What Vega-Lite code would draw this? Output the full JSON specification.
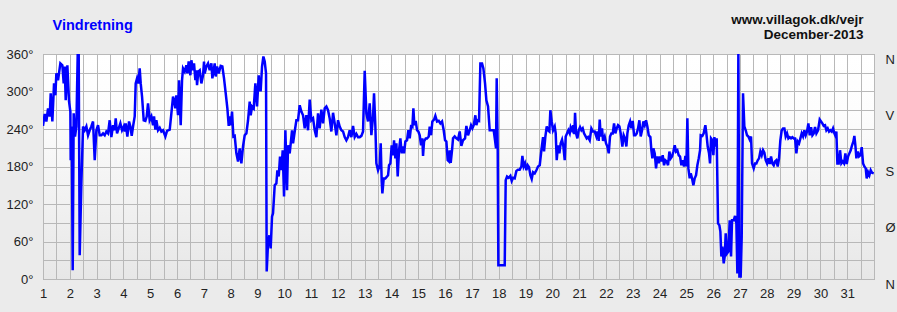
{
  "$schema": "https://vega.github.io/schema/vega-lite/v6.json",
  "width": 831,
  "height": 225,
  "autosize": {"type": "none"},
  "padding": {"left": 43, "top": 54, "right": 23, "bottom": 33},
  "background": "#ebebeb",
  "config": {
    "font": "Liberation Sans",
    "view": {
      "stroke": "#9a9a9a",
      "strokeWidth": 1,
      "fill": {"gradient": "linear", "x1": 0, "y1": 0, "x2": 0, "y2": 1, "stops": [{"offset": 0, "color": "#ffffff"}, {"offset": 0.25, "color": "#fdfdfd"}, {"offset": 1, "color": "#e7e7e7"}]}
    },
    "axis": {
      "gridColor": "#b8b8b8",
      "gridWidth": 1,
      "gridOpacity": 1,
      "ticks": false,
      "domain": false,
      "labelFont": "Liberation Sans",
      "labelFontSize": 13,
      "labelColor": "#222222",
      "labelFlush": false,
      "labelOverlap": false,
      "labelBound": false
    }
  },
  "data": {"values": [
{"t":1.0,"d":245},{"t":1.063,"d":264},{"t":1.126,"d":252},{"t":1.188,"d":273},{"t":1.25,"d":260},{"t":1.287,"d":297},{"t":1.349,"d":252},{"t":1.412,"d":313},{"t":1.461,"d":294},{"t":1.499,"d":329},{"t":1.561,"d":318},{"t":1.648,"d":345},{"t":1.722,"d":342},{"t":1.772,"d":313},{"t":1.81,"d":340},{"t":1.847,"d":286},{"t":1.909,"d":342},{"t":1.971,"d":284},{"t":2.021,"d":268},{"t":2.033,"d":190},{"t":2.071,"d":244},{"t":2.108,"d":14},{"t":2.145,"d":265},{"t":2.195,"d":228},{"t":2.245,"d":244},{"t":2.295,"d":360},{"t":2.332,"d":360},{"t":2.369,"d":38},{"t":2.431,"d":153},{"t":2.494,"d":244},{"t":2.556,"d":238},{"t":2.618,"d":244},{"t":2.68,"d":230},{"t":2.742,"d":238},{"t":2.804,"d":244},{"t":2.866,"d":252},{"t":2.929,"d":190},{"t":2.991,"d":238},{"t":3.053,"d":246},{"t":3.115,"d":230},{"t":3.177,"d":230},{"t":3.24,"d":233},{"t":3.302,"d":230},{"t":3.364,"d":236},{"t":3.426,"d":233},{"t":3.488,"d":254},{"t":3.55,"d":227},{"t":3.613,"d":246},{"t":3.675,"d":238},{"t":3.712,"d":257},{"t":3.762,"d":233},{"t":3.824,"d":241},{"t":3.886,"d":249},{"t":3.948,"d":238},{"t":4.011,"d":244},{"t":4.048,"d":236},{"t":4.085,"d":249},{"t":4.147,"d":228},{"t":4.21,"d":252},{"t":4.259,"d":244},{"t":4.309,"d":229},{"t":4.359,"d":244},{"t":4.421,"d":260},{"t":4.458,"d":313},{"t":4.508,"d":321},{"t":4.558,"d":313},{"t":4.607,"d":337},{"t":4.645,"d":313},{"t":4.695,"d":292},{"t":4.757,"d":254},{"t":4.819,"d":253},{"t":4.869,"d":260},{"t":4.918,"d":281},{"t":4.98,"d":254},{"t":5.043,"d":260},{"t":5.105,"d":246},{"t":5.142,"d":260},{"t":5.192,"d":239},{"t":5.229,"d":254},{"t":5.291,"d":238},{"t":5.354,"d":242},{"t":5.416,"d":236},{"t":5.478,"d":238},{"t":5.565,"d":228},{"t":5.627,"d":237},{"t":5.727,"d":239},{"t":5.789,"d":265},{"t":5.851,"d":292},{"t":5.888,"d":286},{"t":5.938,"d":273},{"t":5.975,"d":294},{"t":6.037,"d":262},{"t":6.075,"d":318},{"t":6.137,"d":246},{"t":6.187,"d":318},{"t":6.224,"d":337},{"t":6.286,"d":332},{"t":6.348,"d":342},{"t":6.386,"d":329},{"t":6.435,"d":348},{"t":6.497,"d":326},{"t":6.535,"d":350},{"t":6.597,"d":334},{"t":6.634,"d":345},{"t":6.684,"d":318},{"t":6.721,"d":334},{"t":6.746,"d":310},{"t":6.796,"d":332},{"t":6.846,"d":334},{"t":6.908,"d":313},{"t":6.97,"d":326},{"t":7.007,"d":348},
{"t":7.032,"d":329},{"t":7.094,"d":340},{"t":7.157,"d":345},{"t":7.219,"d":334},{"t":7.281,"d":345},{"t":7.318,"d":321},{"t":7.368,"d":334},{"t":7.405,"d":345},{"t":7.443,"d":324},{"t":7.492,"d":340},{"t":7.555,"d":329},{"t":7.629,"d":341},{"t":7.691,"d":340},{"t":7.753,"d":321},{"t":7.816,"d":297},{"t":7.878,"d":273},{"t":7.928,"d":245},{"t":7.965,"d":260},{"t":8.002,"d":246},{"t":8.052,"d":268},{"t":8.102,"d":228},{"t":8.151,"d":229},{"t":8.214,"d":201},{"t":8.276,"d":188},{"t":8.338,"d":209},{"t":8.4,"d":185},{"t":8.462,"d":212},{"t":8.524,"d":230},{"t":8.587,"d":233},{"t":8.649,"d":254},{"t":8.711,"d":284},{"t":8.748,"d":262},{"t":8.798,"d":276},{"t":8.86,"d":273},{"t":8.922,"d":313},{"t":8.985,"d":276},{"t":9.047,"d":326},{"t":9.084,"d":302},{"t":9.121,"d":302},{"t":9.171,"d":340},{"t":9.221,"d":356},{"t":9.271,"d":348},{"t":9.32,"d":329},{"t":9.345,"d":12},{"t":9.395,"d":57},{"t":9.445,"d":70},{"t":9.494,"d":49},{"t":9.544,"d":100},{"t":9.581,"d":105},{"t":9.644,"d":150},{"t":9.706,"d":153},{"t":9.743,"d":174},{"t":9.793,"d":164},{"t":9.842,"d":196},{"t":9.892,"d":174},{"t":9.942,"d":206},{"t":9.992,"d":132},{"t":10.042,"d":238},{"t":10.104,"d":142},{"t":10.141,"d":214},{"t":10.203,"d":201},{"t":10.241,"d":217},{"t":10.29,"d":238},{"t":10.328,"d":217},{"t":10.39,"d":236},{"t":10.452,"d":254},{"t":10.514,"d":254},{"t":10.576,"d":278},{"t":10.638,"d":268},{"t":10.701,"d":262},{"t":10.763,"d":241},{"t":10.825,"d":262},{"t":10.887,"d":238},{"t":10.949,"d":287},{"t":11.011,"d":254},{"t":11.074,"d":257},{"t":11.136,"d":238},{"t":11.198,"d":227},{"t":11.26,"d":265},{"t":11.322,"d":241},{"t":11.384,"d":271},{"t":11.447,"d":249},{"t":11.509,"d":273},{"t":11.571,"d":276},{"t":11.633,"d":270},{"t":11.695,"d":257},{"t":11.757,"d":236},{"t":11.82,"d":266},{"t":11.882,"d":249},{"t":11.944,"d":230},{"t":12.006,"d":254},{"t":12.068,"d":244},{"t":12.13,"d":238},{"t":12.193,"d":236},{"t":12.255,"d":227},{"t":12.317,"d":222},{"t":12.379,"d":227},{"t":12.441,"d":238},{"t":12.504,"d":227},{"t":12.566,"d":245},{"t":12.628,"d":227},{"t":12.69,"d":232},{"t":12.752,"d":227},{"t":12.814,"d":227},{"t":12.877,"d":229},{"t":12.939,"d":236},{"t":13.001,"d":333},{"t":13.063,"d":265},{"t":13.125,"d":252},
{"t":13.188,"d":281},{"t":13.25,"d":230},{"t":13.312,"d":260},{"t":13.349,"d":297},{"t":13.399,"d":244},{"t":13.436,"d":185},{"t":13.498,"d":174},{"t":13.561,"d":182},{"t":13.598,"d":217},{"t":13.635,"d":156},{"t":13.66,"d":137},{"t":13.71,"d":161},{"t":13.772,"d":161},{"t":13.834,"d":164},{"t":13.872,"d":166},{"t":13.909,"d":182},{"t":13.959,"d":185},{"t":14.008,"d":214},{"t":14.058,"d":198},{"t":14.095,"d":222},{"t":14.145,"d":193},{"t":14.182,"d":217},{"t":14.232,"d":164},{"t":14.282,"d":206},{"t":14.332,"d":225},{"t":14.381,"d":201},{"t":14.431,"d":212},{"t":14.468,"d":201},{"t":14.518,"d":220},{"t":14.58,"d":222},{"t":14.63,"d":238},{"t":14.68,"d":225},{"t":14.73,"d":244},{"t":14.779,"d":243},{"t":14.817,"d":273},{"t":14.854,"d":246},{"t":14.904,"d":253},{"t":14.953,"d":238},{"t":15.003,"d":236},{"t":15.053,"d":230},{"t":15.103,"d":214},{"t":15.152,"d":225},{"t":15.177,"d":197},{"t":15.215,"d":220},{"t":15.277,"d":225},{"t":15.326,"d":225},{"t":15.389,"d":228},{"t":15.426,"d":244},{"t":15.476,"d":230},{"t":15.525,"d":252},{"t":15.588,"d":255},{"t":15.637,"d":261},{"t":15.7,"d":252},{"t":15.762,"d":253},{"t":15.824,"d":249},{"t":15.886,"d":252},{"t":15.948,"d":238},{"t":15.998,"d":222},{"t":16.048,"d":220},{"t":16.097,"d":190},{"t":16.147,"d":188},{"t":16.172,"d":206},{"t":16.209,"d":186},{"t":16.259,"d":206},{"t":16.296,"d":225},{"t":16.358,"d":228},{"t":16.421,"d":225},{"t":16.483,"d":223},{"t":16.545,"d":236},{"t":16.607,"d":213},{"t":16.669,"d":222},{"t":16.744,"d":225},{"t":16.794,"d":245},{"t":16.856,"d":230},{"t":16.918,"d":238},{"t":16.968,"d":246},{"t":17.018,"d":241},{"t":17.067,"d":246},{"t":17.13,"d":262},{"t":17.167,"d":246},{"t":17.217,"d":254},{"t":17.266,"d":253},{"t":17.316,"d":345},{"t":17.378,"d":345},{"t":17.428,"d":337},{"t":17.49,"d":313},{"t":17.54,"d":286},{"t":17.602,"d":276},{"t":17.664,"d":238},{"t":17.726,"d":238},{"t":17.813,"d":238},{"t":17.863,"d":222},{"t":17.9,"d":209},{"t":17.925,"d":321},{"t":17.963,"d":206},{"t":17.987,"d":22},{"t":18.075,"d":22},{"t":18.162,"d":22},{"t":18.224,"d":22},{"t":18.261,"d":158},{"t":18.311,"d":164},{"t":18.373,"d":162},{"t":18.435,"d":165},{"t":18.485,"d":157},{"t":18.535,"d":162},{"t":18.597,"d":161},{"t":18.659,"d":173},{"t":18.721,"d":175},{"t":18.783,"d":175},{"t":18.846,"d":180},{"t":18.883,"d":197},{"t":18.933,"d":180},{"t":18.982,"d":185},{"t":19.032,"d":174},{"t":19.082,"d":182},{"t":19.131,"d":179},{"t":19.181,"d":166},{"t":19.231,"d":160},{"t":19.281,"d":171},
{"t":19.343,"d":169},{"t":19.405,"d":174},{"t":19.467,"d":180},{"t":19.53,"d":182},{"t":19.592,"d":206},{"t":19.654,"d":227},{"t":19.691,"d":204},{"t":19.741,"d":228},{"t":19.791,"d":244},{"t":19.84,"d":238},{"t":19.89,"d":236},{"t":19.927,"d":270},{"t":19.977,"d":252},{"t":20.027,"d":238},{"t":20.089,"d":244},{"t":20.126,"d":233},{"t":20.164,"d":190},{"t":20.213,"d":214},{"t":20.263,"d":201},{"t":20.313,"d":217},{"t":20.363,"d":223},{"t":20.412,"d":212},{"t":20.462,"d":190},{"t":20.499,"d":228},{"t":20.549,"d":233},{"t":20.599,"d":238},{"t":20.649,"d":233},{"t":20.686,"d":243},{"t":20.736,"d":238},{"t":20.785,"d":246},{"t":20.823,"d":232},{"t":20.848,"d":266},{"t":20.885,"d":233},{"t":20.935,"d":225},{"t":20.984,"d":238},{"t":21.034,"d":243},{"t":21.084,"d":238},{"t":21.134,"d":241},{"t":21.183,"d":233},{"t":21.233,"d":229},{"t":21.283,"d":225},{"t":21.333,"d":227},{"t":21.395,"d":222},{"t":21.457,"d":241},{"t":21.519,"d":236},{"t":21.581,"d":236},{"t":21.643,"d":228},{"t":21.681,"d":236},{"t":21.73,"d":221},{"t":21.768,"d":255},{"t":21.805,"d":228},{"t":21.855,"d":241},{"t":21.892,"d":221},{"t":21.954,"d":228},{"t":22.004,"d":217},{"t":22.054,"d":212},{"t":22.104,"d":201},{"t":22.153,"d":228},{"t":22.203,"d":233},{"t":22.253,"d":233},{"t":22.303,"d":249},{"t":22.352,"d":233},{"t":22.402,"d":241},{"t":22.452,"d":246},{"t":22.502,"d":244},{"t":22.551,"d":233},{"t":22.613,"d":212},{"t":22.663,"d":230},{"t":22.713,"d":225},{"t":22.763,"d":212},{"t":22.8,"d":233},{"t":22.85,"d":246},{"t":22.9,"d":252},{"t":22.949,"d":241},{"t":22.999,"d":253},{"t":23.049,"d":230},{"t":23.098,"d":230},{"t":23.148,"d":233},{"t":23.198,"d":241},{"t":23.248,"d":254},{"t":23.297,"d":228},{"t":23.347,"d":238},{"t":23.397,"d":252},{"t":23.447,"d":246},{"t":23.496,"d":254},{"t":23.546,"d":244},{"t":23.596,"d":230},{"t":23.658,"d":227},{"t":23.695,"d":206},{"t":23.733,"d":193},{"t":23.77,"d":209},{"t":23.82,"d":201},{"t":23.869,"d":177},{"t":23.919,"d":196},{"t":23.969,"d":185},{"t":24.019,"d":196},{"t":24.068,"d":188},{"t":24.118,"d":198},{"t":24.168,"d":182},{"t":24.218,"d":190},{"t":24.267,"d":188},{"t":24.317,"d":182},{"t":24.367,"d":204},{"t":24.416,"d":193},{"t":24.466,"d":196},{"t":24.516,"d":204},{"t":24.566,"d":214},{"t":24.615,"d":204},{"t":24.665,"d":206},{"t":24.715,"d":198},{"t":24.765,"d":196},{"t":24.814,"d":182},{"t":24.864,"d":190},{"t":24.914,"d":180},{"t":24.964,"d":197},{"t":25.001,"d":180},{"t":25.038,"d":257},{"t":25.076,"d":177},{"t":25.125,"d":161},{"t":25.163,"d":169},{"t":25.212,"d":161},{"t":25.262,"d":150},{"t":25.312,"d":161},{"t":25.362,"d":166},{"t":25.411,"d":182},{"t":25.461,"d":193},{"t":25.511,"d":206},
{"t":25.535,"d":230},{"t":25.597,"d":229},{"t":25.647,"d":233},{"t":25.709,"d":246},{"t":25.747,"d":233},{"t":25.796,"d":212},{"t":25.846,"d":201},{"t":25.883,"d":185},{"t":25.921,"d":225},{"t":25.971,"d":222},{"t":26.008,"d":198},{"t":26.045,"d":227},{"t":26.095,"d":212},{"t":26.132,"d":225},{"t":26.182,"d":89},{"t":26.232,"d":86},{"t":26.269,"d":76},{"t":26.306,"d":36},{"t":26.344,"d":52},{"t":26.393,"d":25},{"t":26.431,"d":36},{"t":26.468,"d":73},{"t":26.518,"d":41},{"t":26.567,"d":44},{"t":26.617,"d":94},{"t":26.667,"d":36},{"t":26.704,"d":94},{"t":26.766,"d":94},{"t":26.816,"d":101},{"t":26.866,"d":89},{"t":26.903,"d":9},{"t":26.94,"d":360},{"t":26.978,"d":4},{"t":27.027,"d":4},{"t":27.065,"d":68},{"t":27.114,"d":297},{"t":27.164,"d":244},{"t":27.214,"d":238},{"t":27.264,"d":230},{"t":27.313,"d":228},{"t":27.363,"d":223},{"t":27.413,"d":228},{"t":27.45,"d":185},{"t":27.512,"d":177},{"t":27.562,"d":185},{"t":27.612,"d":185},{"t":27.662,"d":190},{"t":27.711,"d":193},{"t":27.761,"d":204},{"t":27.811,"d":198},{"t":27.861,"d":206},{"t":27.91,"d":202},{"t":27.96,"d":190},{"t":28.01,"d":185},{"t":28.06,"d":193},{"t":28.109,"d":184},{"t":28.159,"d":196},{"t":28.209,"d":185},{"t":28.259,"d":182},{"t":28.308,"d":188},{"t":28.358,"d":190},{"t":28.408,"d":180},{"t":28.458,"d":193},{"t":28.507,"d":222},{"t":28.557,"d":238},{"t":28.607,"d":241},{"t":28.657,"d":241},{"t":28.706,"d":228},{"t":28.756,"d":233},{"t":28.806,"d":225},{"t":28.856,"d":227},{"t":28.905,"d":225},{"t":28.955,"d":227},{"t":29.005,"d":225},{"t":29.055,"d":225},{"t":29.104,"d":201},{"t":29.154,"d":220},{"t":29.204,"d":217},{"t":29.254,"d":225},{"t":29.303,"d":233},{"t":29.353,"d":228},{"t":29.403,"d":238},{"t":29.453,"d":230},{"t":29.502,"d":236},{"t":29.552,"d":249},{"t":29.602,"d":230},{"t":29.652,"d":243},{"t":29.701,"d":230},{"t":29.751,"d":233},{"t":29.801,"d":243},{"t":29.851,"d":233},{"t":29.913,"d":238},{"t":29.975,"d":255},{"t":30.024,"d":252},{"t":30.074,"d":249},{"t":30.124,"d":245},{"t":30.174,"d":246},{"t":30.223,"d":238},{"t":30.273,"d":241},{"t":30.323,"d":236},{"t":30.373,"d":238},{"t":30.422,"d":236},{"t":30.472,"d":241},{"t":30.522,"d":233},{"t":30.572,"d":228},{"t":30.596,"d":236},{"t":30.634,"d":185},{"t":30.684,"d":185},{"t":30.733,"d":206},{"t":30.783,"d":185},{"t":30.833,"d":188},{"t":30.882,"d":185},{"t":30.932,"d":201},{"t":30.982,"d":184},{"t":31.032,"d":196},{"t":31.081,"d":201},{"t":31.131,"d":206},{"t":31.181,"d":214},{"t":31.231,"d":220},{"t":31.268,"d":229},{"t":31.305,"d":214},{"t":31.343,"d":193},{"t":31.392,"d":204},{"t":31.442,"d":196},{"t":31.492,"d":198},{"t":31.542,"d":211},{"t":31.592,"d":185},{"t":31.641,"d":180},{"t":31.691,"d":177},{"t":31.728,"d":161},{"t":31.778,"d":171},{"t":31.828,"d":166},{"t":31.877,"d":174},{"t":31.927,"d":170},{"t":31.99,"d":169}
  ]},
  "encoding": {
    "x": {
      "field": "t", "type": "quantitative",
      "scale": {"domain": [1, 32], "nice": false, "zero": false},
      "axis": {
        "values": [1,1.5,2,2.5,3,3.5,4,4.5,5,5.5,6,6.5,7,7.5,8,8.5,9,9.5,10,10.5,11,11.5,12,12.5,13,13.5,14,14.5,15,15.5,16,16.5,17,17.5,18,18.5,19,19.5,20,20.5,21,21.5,22,22.5,23,23.5,24,24.5,25,25.5,26,26.5,27,27.5,28,28.5,29,29.5,30,30.5,31,31.5,32],
        "labelExpr": "(datum.value % 1 == 0 && datum.value <= 31) ? format(datum.value, 'd') : ''",
        "grid": true,
        "labelPadding": 8,
        "labelBaseline": "top",
        "title": ["www.villagok.dk/vejr", "December-2013"],
        "titleFont": "Liberation Sans",
        "titleFontSize": 13.5,
        "titleFontWeight": "bold",
        "titleColor": "#111111",
        "titleAlign": "right",
        "titleAnchor": "end",
        "titleBaseline": "alphabetic",
        "titleLineHeight": 14.5,
        "titleX": 820,
        "titleY": -255.5
      }
    },
    "y": {
      "field": "d", "type": "quantitative",
      "scale": {"domain": [0, 360], "nice": false, "zero": false}
    }
  },
  "layer": [
    {
      "mark": {"type": "line", "color": "#0000ff", "strokeWidth": 2.5, "clip": true, "interpolate": "linear"},
      "encoding": {
        "y": {
          "field": "d", "type": "quantitative",
          "scale": {"domain": [0, 360], "nice": false, "zero": false},
          "axis": {
            "orient": "left",
            "values": [0,30,60,90,120,150,180,210,240,270,300,330,360],
            "labelExpr": "datum.value % 60 == 0 ? datum.value + '°' : ''",
            "grid": true,
            "labelPadding": 10,
            "title": "Vindretning",
            "titleFont": "Liberation Sans",
            "titleFontSize": 14.5,
            "titleFontWeight": "bold",
            "titleColor": "#0000ff",
            "titleAngle": 0,
            "titleAlign": "left",
            "titleBaseline": "alphabetic",
            "titleX": 9,
            "titleY": -25
          }
        }
      }
    },
    {
      "mark": {"type": "line", "opacity": 0, "clip": true},
      "encoding": {
        "y": {
          "field": "d", "type": "quantitative",
          "scale": {"domain": [0, 360], "nice": false, "zero": false},
          "axis": {
            "orient": "right",
            "values": [0, 90, 180, 270, 360],
            "labelExpr": "datum.value == 90 ? 'Ø' : datum.value == 180 ? 'S' : datum.value == 270 ? 'V' : 'N'",
            "grid": false,
            "labelPadding": 11,
            "labelOffset": 5,
            "title": null
          }
        }
      }
    }
  ],
  "resolve": {"axis": {"y": "independent"}}
}
